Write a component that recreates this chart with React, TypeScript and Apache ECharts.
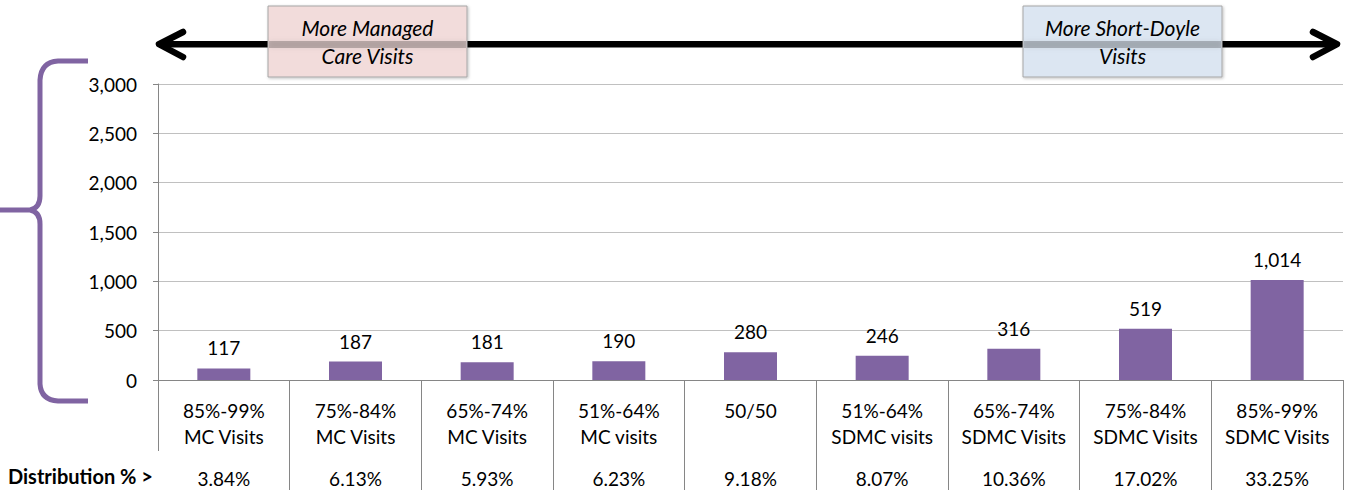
import React, { useEffect, useRef } from "react";
import * as echarts from "echarts";

const rangeLabels = ["85%-99%", "75%-84%", "65%-74%", "51%-64%", "50/50", "51%-64%", "65%-74%", "75%-84%", "85%-99%"];
const groupLabels = ["MC Visits", "MC Visits", "MC Visits", "MC visits", " ", "SDMC visits", "SDMC Visits", "SDMC Visits", "SDMC Visits"];
const distribution = ["3.84%", "6.13%", "5.93%", "6.23%", "9.18%", "8.07%", "10.36%", "17.02%", "33.25%"];
const visits = [117, 187, 181, 190, 280, 246, 316, 519, 1014];
const yTicks = { min: 0, max: 3000, interval: 500 };
const leftNote = ["More Managed", "Care Visits"];
const rightNote = ["More Short-Doyle", "Visits"];
const rowTitle = "Distribution % >";

const FONT = "Lato, 'Noto Sans', sans-serif";
const PURPLE = "#8064A2";
const AXIS_GREY = "#868686";

const bracePath =
  "M88,61 L58,61 Q41,62 40,80 L40,196 Q40,208 30,210 L0,210 M30,210 Q40,212 40,224 L40,384 Q41,400 58,401 L88,401";

let registered = false;
function ensureShapes() {
  if (registered) return;
  echarts.graphic.registerShape("brace", echarts.graphic.extendPath(bracePath, {}) as any);
  registered = true;
}

function noteBox(x: number, fill: string, lines: string[]) {
  const w = 199;
  const h = 71;
  return [
    {
      type: "rect",
      z: 10,
      shape: { x, y: 6, width: w, height: h },
      style: { fill, stroke: "#A6A6A6", lineWidth: 1, shadowBlur: 3, shadowColor: "rgba(0,0,0,0.25)", shadowOffsetX: 1, shadowOffsetY: 1 },
    },
    {
      type: "rect",
      z: 11,
      shape: { x: x + 1, y: 41, width: w - 2, height: 7 },
      style: { fill: "rgba(0,0,0,0.22)", shadowBlur: 5, shadowColor: "rgba(0,0,0,0.3)" },
    },
    {
      type: "text",
      z: 12,
      x: x + w / 2,
      y: 27,
      style: { text: lines[0], font: `italic 21px ${FONT}`, fill: "#000", align: "center", verticalAlign: "middle" },
    },
    {
      type: "text",
      z: 12,
      x: x + w / 2,
      y: 55,
      style: { text: lines[1], font: `italic 21px ${FONT}`, fill: "#000", align: "center", verticalAlign: "middle" },
    },
  ];
}

export default function App() {
  const ref = useRef<HTMLDivElement>(null);
  useEffect(() => {
    if (!ref.current) return;
    ensureShapes();
    const chart = echarts.init(ref.current, null, { renderer: "svg" });
    const chevron = { stroke: "#000", lineWidth: 6.5, lineCap: "round", lineJoin: "round", fill: "none" };
    chart.setOption({
      animation: false,
      backgroundColor: "#fff",
      grid: { left: 158, right: 6, top: 84, bottom: 110, containLabel: false },
      xAxis: {
        type: "category",
        data: rangeLabels.map((_, i) => String(i)),
        boundaryGap: true,
        axisLine: { show: true, lineStyle: { color: AXIS_GREY, width: 1 } },
        axisTick: { show: true, length: 110, alignWithLabel: false, interval: 0, lineStyle: { color: AXIS_GREY, width: 1 } },
        axisLabel: {
          interval: 0,
          margin: 17,
          formatter: (_v: string, idx: number) => `{a|${rangeLabels[idx]}}\n{a|${groupLabels[idx]}}\n{b|${distribution[idx]}}`,
          rich: {
            a: { fontFamily: FONT, fontSize: 19, lineHeight: 26, color: "#000", align: "center" },
            b: { fontFamily: FONT, fontSize: 19, lineHeight: 58, color: "#000", align: "center" },
          },
        },
      },
      yAxis: {
        type: "value",
        min: yTicks.min,
        max: yTicks.max,
        interval: yTicks.interval,
        axisLine: { show: true, lineStyle: { color: AXIS_GREY, width: 1 } },
        axisTick: { show: true, length: 5, lineStyle: { color: AXIS_GREY } },
        axisLabel: {
          margin: 21,
          fontFamily: FONT,
          fontSize: 19,
          color: "#000",
          formatter: (v: number) => v.toLocaleString("en-US"),
        },
        splitLine: { show: true, lineStyle: { color: "#C0C0C0", width: 1 } },
      },
      series: [
        {
          type: "bar",
          data: visits,
          barWidth: 53,
          itemStyle: { color: PURPLE },
          label: {
            show: true,
            position: "top",
            distance: 11,
            fontFamily: FONT,
            fontSize: 19,
            color: "#000",
            formatter: (p: any) => Number(p.value).toLocaleString("en-US"),
          },
        },
      ],
      graphic: [
        { type: "rect", z: 5, shape: { x: 154, y: 451, width: 8, height: 40 }, style: { fill: "#fff" } },
        {
          type: "text",
          z: 6,
          x: 8,
          y: 476,
          style: { text: rowTitle, font: `bold 20px ${FONT}`, fill: "#000", align: "left", verticalAlign: "middle" },
        },
        { type: "rect", z: 8, shape: { x: 160, y: 41, width: 1175, height: 6.5 }, style: { fill: "#000" } },
        { type: "polyline", z: 8, shape: { points: [[183, 32], [159, 44.25], [183, 57]] }, style: chevron },
        { type: "polyline", z: 8, shape: { points: [[1313, 32], [1337, 44.25], [1313, 57]] }, style: chevron },
        ...noteBox(268, "#F2DCDB", leftNote),
        ...noteBox(1023, "#DCE6F2", rightNote),
        {
          type: "brace",
          z: 8,
          x: 0,
          y: 0,
          style: { fill: "none", stroke: PURPLE, lineWidth: 5, lineCap: "butt", lineJoin: "round" },
        },
      ],
    });
    return () => chart.dispose();
  }, []);
  return <div ref={ref} style={{ position: "fixed", left: 0, top: 0, width: "1349px", height: "490px" }} />;
}
